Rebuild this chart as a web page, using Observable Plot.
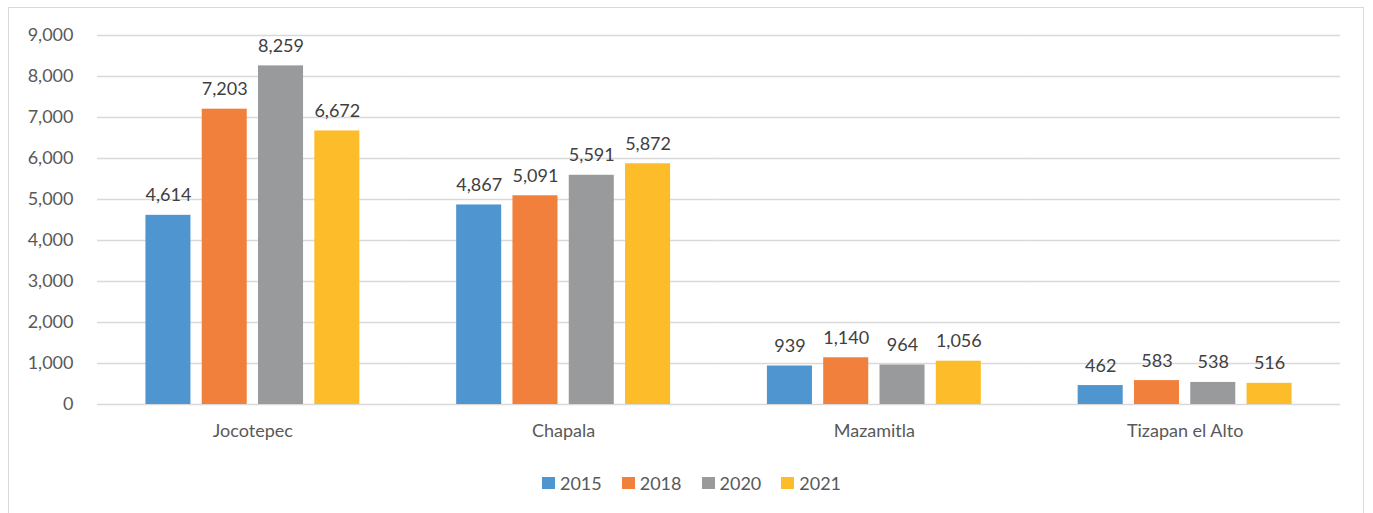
<!DOCTYPE html>
<html>
<head>
<meta charset="utf-8">
<script src="https://cdn.jsdelivr.net/npm/d3@7"></script>
<script src="https://cdn.jsdelivr.net/npm/@observablehq/plot@0.6"></script>
<style>
  html, body { margin: 0; padding: 0; background: #fff; }
  body { width: 1373px; height: 513px; position: relative; overflow: hidden; font-family: Lato, "Open Sans", sans-serif; }
  #frame { position: absolute; left: 8px; top: 7px; width: 1356px; height: 560px; border: 1px solid #d9d9d9; box-sizing: border-box; }
  #chart { position: absolute; left: 0; top: 0; }
  #legend { position: absolute; left: 0; top: 472px; width: 1383px; display: flex; justify-content: center; gap: 20px; font-size: 18px; color: #595959; }
  #legend .item { display: flex; align-items: center; gap: 5px; }
  #legend .sw { width: 13px; height: 12px; display: inline-block; }
</style>
</head>
<body>
<div id="frame"></div>
<div id="chart"></div>
<div id="legend"></div>
<script>
const categories = ["Jocotepec", "Chapala", "Mazamitla", "Tizapan el Alto"];
const years = ["2015", "2018", "2020", "2021"];
const values2015 = [4614, 4867, 939, 462];
const values2018 = [7203, 5091, 1140, 583];
const values2020 = [8259, 5591, 964, 538];
const values2021 = [6672, 5872, 1056, 516];
const colors = ["#4f96d0", "#f0803c", "#989a9b", "#fdbd2a"];
const yTicks = [0, 1000, 2000, 3000, 4000, 5000, 6000, 7000, 8000, 9000];

const series = [values2015, values2018, values2020, values2021];
const data = [];
categories.forEach((c, i) => {
  years.forEach((y, j) => data.push({category: c, year: y, value: series[j][i]}));
});

const fmt = d3.format(",");

const plot = Plot.plot({
  width: 1373,
  height: 460,
  marginLeft: 97,
  marginRight: 33,
  marginTop: 35,
  marginBottom: 56,
  style: {fontFamily: "Lato, 'Open Sans', sans-serif", fontSize: "18px", color: "#595959", background: "transparent"},
  fx: {domain: categories, padding: 0, round: false, label: null},
  x: {domain: years, paddingInner: 0.2, paddingOuter: 0.86, round: false, axis: null},
  y: {domain: [0, 9000], label: null, axis: null},
  color: {domain: years, range: colors},
  marks: [
    Plot.ruleY(yTicks, {stroke: "#d9d9d9", strokeWidth: 1.3}),
    Plot.axisY({ticks: yTicks, tickSize: 0, tickPadding: 24, tickFormat: fmt, fontSize: 18, fill: "#595959", label: null}),
    Plot.axisFx({anchor: "bottom", tickSize: 0, tickPadding: 20, fontSize: 18, fill: "#595959", label: null}),
    Plot.barY(data, {fx: "category", x: "year", y: "value", fill: "year"}),
    Plot.text(data, {fx: "category", x: "year", y: "value", text: d => fmt(d.value), lineAnchor: "bottom", dy: -14, fontSize: 18, fill: "#404040"})
  ]
});
document.getElementById("chart").appendChild(plot);

const legend = document.getElementById("legend");
years.forEach((y, i) => {
  const item = document.createElement("div");
  item.className = "item";
  const sw = document.createElement("span");
  sw.className = "sw";
  sw.style.background = colors[i];
  const t = document.createElement("span");
  t.textContent = y;
  item.appendChild(sw);
  item.appendChild(t);
  legend.appendChild(item);
});
</script>
</body>
</html>
